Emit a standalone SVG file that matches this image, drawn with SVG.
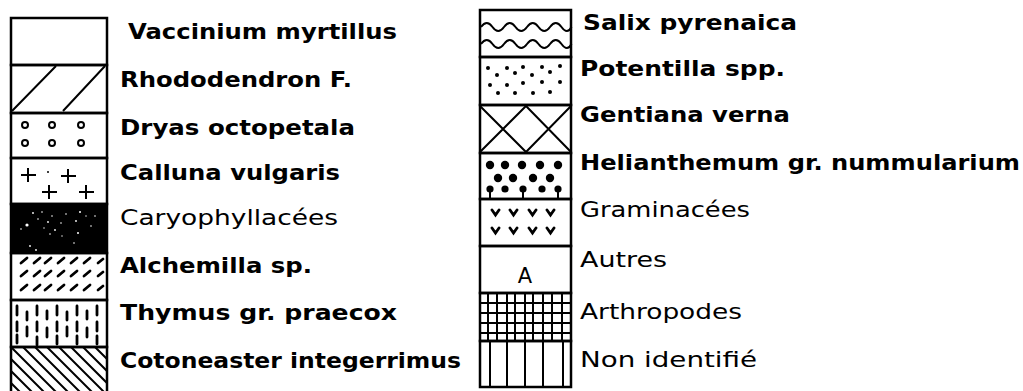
<svg xmlns="http://www.w3.org/2000/svg" width="1023" height="391" viewBox="0 0 1023 391">
<style>
.box{fill:none;stroke:#000;stroke-width:2.5}
.ln{stroke:#000;stroke-width:2;fill:none}
.thk{stroke:#000;stroke-width:2.8;fill:none;stroke-linecap:round}
.dot{fill:#000}
.spk{fill:#fff}
.lb{font-family:"DejaVu Sans","Liberation Sans",sans-serif;font-size:21px;font-weight:bold;fill:#000}
.lt{font-weight:normal}
</style>
<defs>
<clipPath id="cCot"><rect x="11" y="347" width="96" height="50"/></clipPath>
</defs>
<rect width="1023" height="391" fill="#fff"/>

<g id="vaccinium">
<rect class="box" x="11" y="18" width="96" height="47"/>
<text class="lb" x="128" y="39" textLength="269" lengthAdjust="spacingAndGlyphs">Vaccinium myrtillus</text>
</g>
<g id="rhododendron">
<rect class="box" x="11" y="65" width="96" height="48"/>
<path class="ln" d="M12,111 L56,66 M63,111 L105,66"/>
<text class="lb" x="120" y="87" textLength="232" lengthAdjust="spacingAndGlyphs">Rhododendron F.</text>
</g>
<g id="dryas">
<rect class="box" x="11" y="113" width="96" height="45"/>
<g class="ln" stroke-width="2.6">
<circle cx="25" cy="125" r="3"/><circle cx="52" cy="125" r="3"/><circle cx="81" cy="125" r="3"/>
<circle cx="25" cy="143" r="3"/><circle cx="52" cy="143" r="3"/><circle cx="81" cy="143" r="3"/>
</g>
<text class="lb" x="120" y="135" textLength="235" lengthAdjust="spacingAndGlyphs">Dryas octopetala</text>
</g>
<g id="calluna">
<rect class="box" x="11" y="158" width="96" height="46"/>
<path class="ln" d="M21,175 h15 M28,168 v14 M61,176 h15 M68,169 v14 M42,192 h15 M49,185 v14 M79,192 h15 M86,185 v14"/>
<circle class="dot" cx="48" cy="172" r="1"/>
<text class="lb" x="120" y="180" textLength="220" lengthAdjust="spacingAndGlyphs">Calluna vulgaris</text>
</g>
<g id="caryophyllacees">
<rect x="11" y="204" width="96" height="49" fill="#000" stroke="#000" stroke-width="2.5"/>
<g class="spk">
<circle cx="27" cy="225" r="1.6"/><circle cx="33" cy="213" r="0.9"/><circle cx="38" cy="219" r="0.8"/><circle cx="42" cy="212" r="0.8"/>
<circle cx="48" cy="222" r="0.9"/><circle cx="52" cy="216" r="0.8"/><circle cx="55" cy="230" r="0.9"/><circle cx="50" cy="234" r="0.8"/>
<circle cx="61" cy="223" r="0.8"/><circle cx="66" cy="214" r="0.8"/><circle cx="76" cy="221" r="0.9"/><circle cx="80" cy="212" r="1"/>
<circle cx="78" cy="233" r="1"/><circle cx="91" cy="226" r="0.8"/><circle cx="95" cy="216" r="0.8"/><circle cx="21" cy="229" r="0.8"/>
<circle cx="30" cy="246" r="0.9"/><circle cx="36" cy="250" r="0.9"/><circle cx="74" cy="243" r="0.8"/><circle cx="44" cy="228" r="0.7"/>
<circle cx="86" cy="216" r="0.7"/><circle cx="62" cy="236" r="0.7"/>
</g>
<text class="lb lt" x="120" y="225" textLength="218" lengthAdjust="spacingAndGlyphs">Caryophyllacées</text>
</g>
<g id="alchemilla">
<rect class="box" x="11" y="253" width="96" height="47"/>
<path class="thk" d="M21,263 l6,-5 M34,263 l6,-5 M45,263 l6,-5 M58,263 l6,-5 M71,263 l6,-5 M84,263 l6,-5 M98,263 l5,-4
M21,276 l6,-5 M34,276 l6,-5 M45,276 l6,-5 M58,276 l6,-5 M71,276 l6,-5 M84,276 l6,-5 M98,276 l5,-4
M21,290 l6,-5 M34,290 l6,-5 M45,290 l6,-5 M58,290 l6,-5 M71,290 l6,-5 M84,290 l6,-5 M98,290 l5,-4"/>
<text class="lb" x="120" y="273" textLength="192" lengthAdjust="spacingAndGlyphs">Alchemilla sp.</text>
</g>
<g id="thymus">
<rect class="box" x="11" y="300" width="96" height="47"/>
<path class="thk" d="M17,306 v9 M37,306 v9 M57,306 v9 M77,306 v9 M97,306 v9
M27,312 v8 M47,311 v8 M67,312 v8 M87,311 v8
M17,322 v9 M37,322 v9 M57,322 v9 M77,322 v9 M97,322 v9
M27,327 v9 M47,328 v9 M67,327 v9 M87,328 v9
M17,335 v8 M37,337 v8 M57,336 v8 M77,336 v8 M97,336 v8"/>
<text class="lb" x="120" y="320" textLength="277" lengthAdjust="spacingAndGlyphs">Thymus gr. praecox</text>
</g>
<g id="cotoneaster">
<rect class="box" x="11" y="347" width="96" height="50"/>
<g clip-path="url(#cCot)">
<path class="ln" d="M-37,347 l50,50 M-25,347 l50,50 M-13,347 l50,50 M-1,347 l50,50 M11,347 l50,50 M23,347 l50,50 M35,347 l50,50 M47,347 l50,50 M59,347 l50,50 M71,347 l50,50 M83,347 l50,50 M95,347 l50,50"/>
</g>
<text class="lb" x="120" y="368" textLength="341" lengthAdjust="spacingAndGlyphs">Cotoneaster integerrimus</text>
</g>

<g id="salix">
<rect class="box" x="480" y="10" width="91" height="47"/>
<path class="ln" d="M481,27 q5.75,-8 11.5,0 t11.5,0 t11.5,0 t11.5,0 t11.5,0 t11.5,0 t11.5,0 t10,0"/>
<path class="ln" d="M481,44 q5.75,-8 11.5,0 t11.5,0 t11.5,0 t11.5,0 t11.5,0 t11.5,0 t11.5,0 t10,0"/>
<text class="lb" x="583" y="30" textLength="214" lengthAdjust="spacingAndGlyphs">Salix pyrenaica</text>
</g>
<g id="potentilla">
<rect class="box" x="480" y="57" width="91" height="48"/>
<g class="dot">
<circle cx="488" cy="68" r="2"/><circle cx="507" cy="68" r="2"/><circle cx="523" cy="67" r="2"/><circle cx="542" cy="67" r="2"/><circle cx="560" cy="66" r="2"/>
<circle cx="497" cy="75" r="2"/><circle cx="515" cy="73" r="2"/><circle cx="532" cy="75" r="2"/><circle cx="550" cy="72" r="2"/>
<circle cx="490" cy="85" r="2"/><circle cx="507" cy="85" r="2"/><circle cx="523" cy="83" r="2"/><circle cx="542" cy="82" r="2"/><circle cx="560" cy="82" r="2"/>
<circle cx="498" cy="93" r="2"/><circle cx="515" cy="93" r="2"/><circle cx="533" cy="93" r="2"/><circle cx="550" cy="92" r="2"/>
</g>
<text class="lb" x="580" y="76" textLength="205" lengthAdjust="spacingAndGlyphs">Potentilla spp.</text>
</g>
<g id="gentiana">
<rect class="box" x="480" y="105" width="91" height="48"/>
<path class="ln" d="M480,106 L526,152 M480,152 L526,106 M526,106 L571,152 M526,152 L571,106"/>
<text class="lb" x="580" y="122" textLength="210" lengthAdjust="spacingAndGlyphs">Gentiana verna</text>
</g>
<g id="helianthemum">
<rect class="box" x="480" y="153" width="91" height="46"/>
<g class="dot">
<circle cx="490" cy="165" r="4.2"/><circle cx="505" cy="165" r="4.2"/><circle cx="522" cy="165" r="4.2"/><circle cx="540" cy="165" r="4.2"/><circle cx="558" cy="165" r="4.2"/>
<circle cx="498" cy="178" r="4.2"/><circle cx="513" cy="178" r="4.2"/><circle cx="533" cy="178" r="4.2"/><circle cx="550" cy="178" r="4.2"/>
<circle cx="490" cy="189" r="3.6"/><circle cx="505" cy="189" r="3.6"/><circle cx="523" cy="189" r="3.6"/><circle cx="542" cy="189" r="3.6"/><circle cx="558" cy="189" r="3.6"/>
</g>
<path class="ln" d="M490,189 v9 M523,189 v9 M558,189 v9"/>
<text class="lb" x="580" y="170" textLength="440" lengthAdjust="spacingAndGlyphs">Helianthemum gr. nummularium</text>
</g>
<g id="graminacees">
<rect class="box" x="480" y="199" width="91" height="47"/>
<path class="thk" d="M492,210 l3.5,5 l3.5,-5 M510,210 l3.5,5 l3.5,-5 M529,210 l3.5,5 l3.5,-5 M547,210 l3.5,5 l3.5,-5
M492,228 l3.5,5 l3.5,-5 M510,228 l3.5,5 l3.5,-5 M529,228 l3.5,5 l3.5,-5 M547,228 l3.5,5 l3.5,-5"/>
<text class="lb lt" x="580" y="217" textLength="170" lengthAdjust="spacingAndGlyphs">Graminacées</text>
</g>
<g id="autres">
<rect class="box" x="480" y="246" width="91" height="47"/>
<text class="lb lt" x="525" y="283" text-anchor="middle" font-size="21">A</text>
<text class="lb lt" x="580" y="267" textLength="87" lengthAdjust="spacingAndGlyphs">Autres</text>
</g>
<g id="arthropodes">
<rect class="box" x="480" y="293" width="91" height="48"/>
<path class="ln" d="M488,293 v48 M497,293 v48 M507,293 v48 M515,293 v48 M525,293 v48 M533,293 v48 M543,293 v48 M552,293 v48 M562,293 v48
M480,303 h91 M480,313 h91 M480,323 h91 M480,333 h91"/>
<text class="lb lt" x="580" y="319" textLength="162" lengthAdjust="spacingAndGlyphs">Arthropodes</text>
</g>
<g id="non-identifie">
<rect class="box" x="480" y="341" width="91" height="46"/>
<path class="ln" d="M490,341 v46 M507,341 v46 M525,341 v46 M543,341 v46 M563,341 v46"/>
<text class="lb lt" x="580" y="367" textLength="177" lengthAdjust="spacingAndGlyphs">Non identifié</text>
</g>
<g id="connectors"/>
</svg>
